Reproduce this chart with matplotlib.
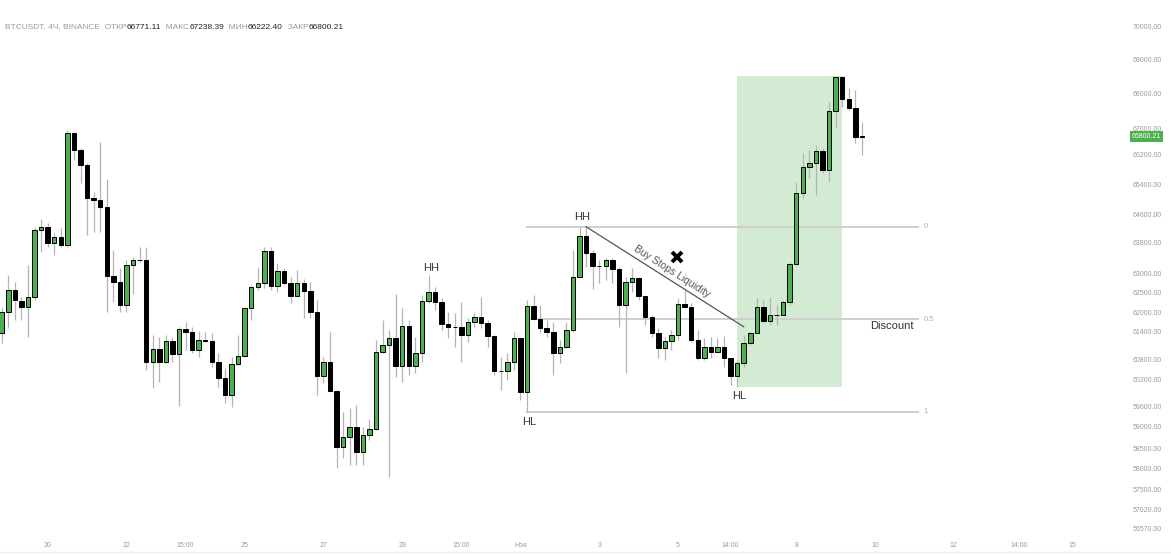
import matplotlib.pyplot as plt
from matplotlib.patches import Rectangle
from matplotlib.lines import Line2D
from matplotlib.transforms import blended_transform_factory

# BTCUSDT 4h candles
opens = [61760, 62340, 62920, 62630, 62480, 62750, 64530, 64620, 64190, 64340,
         64130, 67120, 66680, 66270, 65380, 65350, 65140, 63310, 63150, 62520,
         63590, 63730, 63720, 61000, 61350, 61000, 61570, 61210, 61880, 61800,
         61320, 61580, 61570, 61000, 60570, 60110, 60940, 61160, 62430, 63010,
         63120, 63970, 63040, 63430, 63100, 62770, 63100, 62910, 62340, 60630,
         61000, 60220, 58730, 58990, 59260, 58580, 59040, 59200, 61270, 61450,
         61630, 60890, 61960, 60890, 61230, 62640, 62880, 62610, 62010, 61940,
         61930, 61720, 62060, 62190, 62030, 61690, 60760, 60750, 60990, 61630,
         60200, 62500, 62150, 61900, 61810, 61230, 61390, 61850, 63270, 64370,
         63920, 63570, 63560, 63730, 63480, 62520, 63150, 63240, 62760, 62190,
         61780, 61360, 61570, 61720, 62540, 62480, 61580, 61090, 61410, 61270,
         61410, 61090, 60630, 60960, 61500, 61780, 62460, 62100, 62250, 62260,
         62610, 63620, 65530, 66230, 66320, 66660, 66140, 67730, 68640, 68040,
         67790, 67040]
highs = [62480, 63330, 63150, 62750, 63590, 64620, 64820, 64710, 64440, 64580,
         67210, 67170, 66720, 66320, 65560, 66900, 65890, 64000, 63510, 63730,
         63820, 64090, 64090, 61720, 61670, 61720, 61670, 61940, 62080, 61940,
         61830, 61810, 61760, 61230, 60830, 61140, 61720, 62480, 63060, 63550,
         64090, 64080, 63640, 63510, 63280, 63460, 63210, 63150, 62660, 61140,
         61810, 60240, 59660, 59750, 59840, 59260, 59460, 61580, 62120, 61850,
         62820, 62430, 62120, 61670, 62790, 63330, 63010, 62700, 62340, 62300,
         62610, 62170, 62300, 62750, 62120, 61720, 61140, 61230, 61810, 61640,
         62660, 62790, 62520, 62120, 62080, 61580, 62080, 64000, 64620, 64620,
         64000, 63730, 63770, 63770, 63550, 63280, 63510, 63280, 62790, 62250,
         61900, 61670, 61850, 62700, 62920, 62570, 61850, 61630, 61660, 61630,
         61690, 61100, 61050, 61720, 61810, 62700, 62660, 62730, 62520, 62660,
         63680, 65830, 66600, 66680, 66810, 66720, 67970, 68650, 68650, 68330,
         68280, 67440]
lows = [61500, 61900, 62120, 62120, 61670, 62660, 63950, 64090, 63860, 64090,
        64090, 66410, 65780, 64400, 64490, 64490, 62340, 62610, 62340, 62340,
        62820, 63680, 60780, 60290, 60470, 60960, 61000, 59820, 61320, 61230,
        61140, 61540, 60870, 60330, 59890, 59780, 60910, 61140, 62120, 62920,
        62970, 62920, 62880, 63060, 62570, 62760, 62170, 62170, 60110, 60420,
        60200, 58150, 58410, 58230, 58230, 58230, 58900, 59170, 61230, 57920,
        60600, 60470, 60650, 60690, 61000, 62570, 62390, 61850, 61630, 61410,
        61000, 61540, 61940, 61900, 61410, 60650, 60250, 60510, 60780, 59980,
        59660, 62120, 61760, 61670, 60650, 60960, 61360, 61810, 63240, 63550,
        62940, 63100, 63190, 63100, 61940, 60690, 62880, 62660, 61990, 61670,
        61090, 61050, 61320, 61580, 62430, 61540, 61050, 61050, 61090, 61230,
        60870, 60380, 60330, 60870, 61450, 61760, 62030, 61990, 61990, 62250,
        62520, 63590, 65380, 65920, 65470, 66050, 65830, 67300, 67840, 67750,
        66860, 66540]
closes = [62340, 62920, 62660, 62480, 62750, 64530, 64620, 64190, 64340, 64130,
          67120, 66680, 66270, 65380, 65350, 65140, 63310, 63150, 62520, 63590,
          63730, 63720, 61000, 61350, 61000, 61570, 61210, 61880, 61800, 61320,
          61580, 61570, 61000, 60570, 60110, 60940, 61160, 62430, 63010, 63120,
          63970, 63040, 63430, 63100, 62770, 63100, 62910, 62340, 60630, 61000,
          60220, 58730, 58990, 59260, 58580, 59040, 59200, 61270, 61450, 61630,
          60890, 61960, 60890, 61230, 62640, 62880, 62610, 62010, 61940, 61930,
          61720, 62060, 62190, 62030, 61690, 60760, 60750, 60990, 61630, 60200,
          62500, 62150, 61900, 61810, 61230, 61390, 61850, 63270, 64370, 63920,
          63570, 63560, 63730, 63480, 62520, 63150, 63240, 62760, 62190, 61780,
          61360, 61570, 61720, 62540, 62480, 61580, 61090, 61410, 61270, 61410,
          61090, 60630, 60960, 61500, 61780, 62460, 62100, 62250, 62260, 62610,
          63620, 65530, 66230, 66320, 66660, 66140, 67730, 68640, 68040, 67790,
          67030, 67030]

# axis labels as shown in the screenshot
ytick_labels = ["70000.00", "69000.00", "68000.00", "67000.00", "66200.00",
                "65400.00", "64600.00", "63800.00", "63000.00", "62500.00",
                "62000.00", "61400.00", "60800.00", "60200.00", "59600.00",
                "59000.00", "58500.00", "58000.00", "57500.00", "57020.00",
                "56570.00"]
ytick_pos = [70000, 69115, 68180, 67265, 66545, 65765, 64960, 64185, 63380,
             62845, 62335, 61800, 61075, 60515, 59815, 59255, 58690, 58130,
             57565, 57055, 56545]
xtick_labels = ["20", "22", "15:00", "25", "27", "29", "15:00", "Ноя", "3",
                "5", "14:00", "8", "10", "12", "14:00", "15"]
xtick_pos = [7, 19, 28, 37, 49, 61, 70, 79, 91, 103, 111, 121, 133, 145, 155, 163]

header = [("BTCUSDT, 4Ч, BINANCE  ОТКР", "#9a9a9a"), ("66771.11", "#222222"),
          ("  МАКС", "#9a9a9a"), ("67238.39", "#222222"),
          ("  МИН", "#9a9a9a"), ("66222.40", "#222222"),
          ("  ЗАКР", "#9a9a9a"), ("66800.21", "#222222")]
last_price_label = "66800.21"

# swing points used by the drawings
hl_idx, hh_idx = 80, 88
trend_x = [89, 113]
trend_y = [64620, 61940]
zone_idx = [112, 128]

plt.rcParams['font.family'] = ['Liberation Sans', 'DejaVu Sans']

fig = plt.figure(figsize=(11.71, 5.54), dpi=100)
ax = fig.add_axes([0, 17 / 554, 1118 / 1171, 537 / 554])
ax.set_xlim(-0.26, 170.0)
ax.set_ylim(56305, 70697)
for s in ax.spines.values():
    s.set_visible(False)

green = '#4caf50'
n = len(opens)
xs = list(range(n))

# green zone
ax.add_patch(Rectangle((zone_idx[0], lows[zone_idx[0]]),
                       zone_idx[1] - zone_idx[0],
                       highs[zone_idx[1] - 1] - lows[zone_idx[0]],
                       facecolor='#d3ebd3', edgecolor='none', zorder=0))

# fib levels
fib_top, fib_bot = highs[hh_idx], lows[hl_idx]
for lvl, lab in [(0, "0"), (0.5, "0.5"), (1, "1")]:
    yv = fib_top - lvl * (fib_top - fib_bot)
    ax.plot([hl_idx, 139.5], [yv, yv], color='#cfcfcf', lw=1.4, zorder=1)
    ax.text(140.4, yv, lab, fontsize=5.5, color='#b0b0b0', va='center', ha='left')

# candles
ax.vlines(xs, lows, highs, color='#b4b4b4', lw=0.9, zorder=2)
bottoms = [min(o, c) for o, c in zip(opens, closes)]
heights = [max(abs(c - o), 12) for o, c in zip(opens, closes)]
colors = [green if c > o else 'black' for o, c in zip(opens, closes)]
ax.bar(xs, heights, bottom=bottoms, width=0.68, color=colors,
       edgecolor='black', linewidth=0.7, zorder=3)

# trend line and annotations
ax.plot(trend_x, trend_y, color='#555555', lw=0.9, zorder=4)
ax.text(102.1, 63407, "Buy Stops Liquidity", fontsize=7.5, color='#555555',
        rotation=-32.6, ha='center', va='center', rotation_mode='anchor')
ax.plot([102.9], [63817], marker='x', ms=7, mew=2.8, color='black', zorder=5)

ann_kw = dict(fontsize=8, color='#333333', ha='center', va='center')
ax.text(65.4, 63515, "HH", **ann_kw)
ax.text(88.4, 64881, "HH", **ann_kw)
ax.text(80.4, 59387, "HL", **ann_kw)
ax.text(112.3, 60084, "HL", **ann_kw)
ax.text(135.6, 61960, "Discount", **ann_kw)

# header line
t = ax.text(0.0045, 0.9497, header[0][0], transform=ax.transAxes, fontsize=6,
            color=header[0][1], va='center', ha='left')
for txt, col in header[1:]:
    t = ax.annotate(txt, xy=(1, 0.5), xycoords=t, fontsize=6, color=col,
                    va='center', ha='left')

# axes ticks
ax.yaxis.tick_right()
ax.set_yticks(ytick_pos)
ax.set_yticklabels(ytick_labels)
ax.set_xticks(xtick_pos)
ax.set_xticklabels(xtick_labels)
ax.tick_params(axis='y', length=0, labelsize=5, colors='#9a9a9a', pad=10.5)
ax.tick_params(axis='x', length=0, labelsize=5, colors='#9a9a9a', pad=3.5)

# last price badge
tr = blended_transform_factory(ax.transAxes, ax.transData)
ax.text(1.0255, closes[-1], last_price_label, transform=tr, fontsize=5,
        color='white', ha='center', va='center', clip_on=False,
        bbox=dict(boxstyle='square,pad=0.3', fc=green, ec='none'))

fig.add_artist(Line2D([0, 1], [2 / 554, 2 / 554], color='#ececec', lw=1))

fig.savefig('out.png', dpi=100)
